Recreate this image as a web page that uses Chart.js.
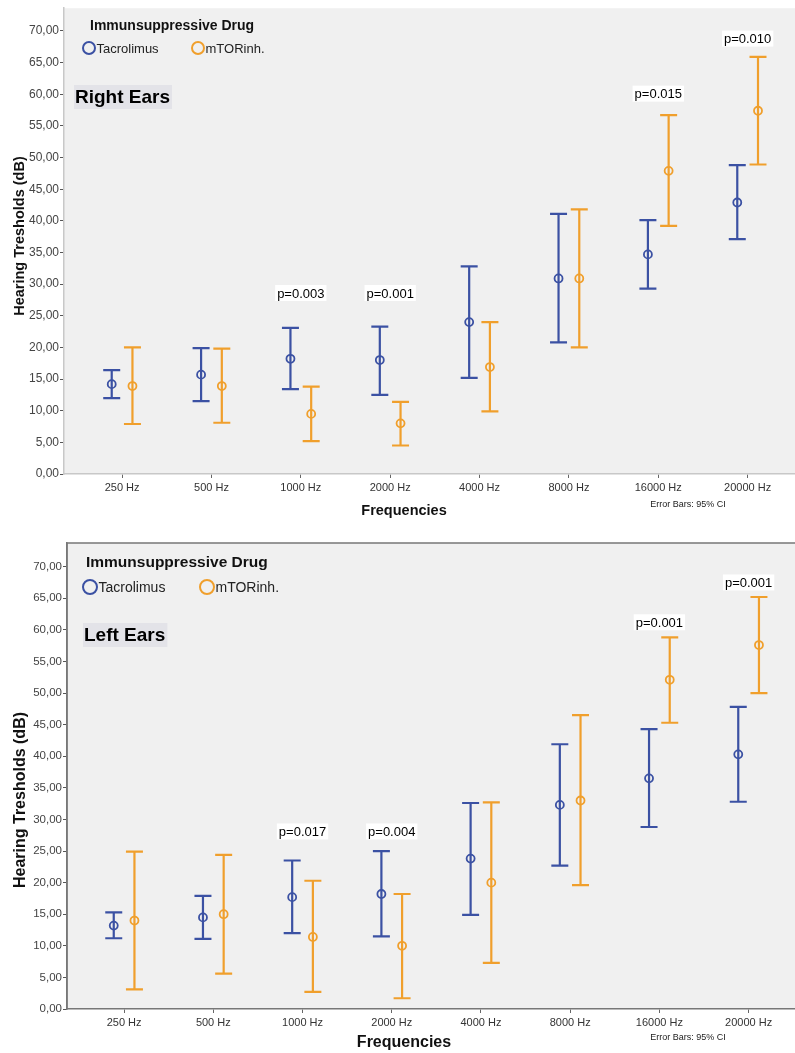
<!DOCTYPE html>
<html>
<head>
<meta charset="utf-8">
<script src="https://cdn.jsdelivr.net/npm/chart.js@4.4.1/dist/chart.umd.min.js"></script>
<style>
    body { margin: 0; background: #fff; }
    .panel { position: absolute; left: 0; }
</style>
</head>
<body>
<div class="panel" style="top:0"><canvas id="rightChart" width="795" height="525"></canvas></div>
<div class="panel" style="top:525px"><canvas id="leftChart" width="795" height="528"></canvas></div>
<script>
// Frequencies on the x axis
const categories = ['250 Hz', '500 Hz', '1000 Hz', '2000 Hz', '4000 Hz', '8000 Hz', '16000 Hz', '20000 Hz'];

// Right ears: means and 95% CI bounds (dB)
const rightTacMean = [14.2, 15.7, 18.2, 18.0, 24.0, 30.9, 34.7, 42.9];
const rightTacLow  = [12.0, 11.5, 13.4, 12.5, 15.2, 20.8, 29.3, 37.1];
const rightTacHigh = [16.4, 19.9, 23.1, 23.3, 32.8, 41.1, 40.1, 48.8];
const rightMtorMean = [13.9, 13.9, 9.5, 8.0, 16.9, 30.9, 47.9, 57.4];
const rightMtorLow  = [7.9, 8.1, 5.2, 4.5, 9.9, 20.0, 39.2, 48.9];
const rightMtorHigh = [20.0, 19.8, 13.8, 11.4, 24.0, 41.8, 56.7, 65.9];
const rightP   = [null, null, 'p=0.003', 'p=0.001', null, null, 'p=0.015', 'p=0.010'];
const rightPAt = [null, null, 28.6, 28.6, null, null, 60.1, 68.8];

// Left ears
const leftTacMean = [13.2, 14.5, 17.7, 18.2, 23.8, 32.3, 36.5, 40.3];
const leftTacLow  = [11.2, 11.1, 12.0, 11.5, 14.9, 22.7, 28.8, 32.8];
const leftTacHigh = [15.3, 17.9, 23.5, 25.0, 32.6, 41.9, 44.3, 47.8];
const leftMtorMean = [14.0, 15.0, 11.4, 10.0, 20.0, 33.0, 52.1, 57.6];
const leftMtorLow  = [3.1, 5.6, 2.7, 1.7, 7.3, 19.6, 45.3, 50.0];
const leftMtorHigh = [24.9, 24.4, 20.3, 18.2, 32.7, 46.5, 58.8, 65.2];
const leftP   = [null, null, 'p=0.017', 'p=0.004', null, null, 'p=0.001', 'p=0.001'];
const leftPAt = [null, null, 28.1, 28.1, null, null, 61.2, 67.5];

const BLUE = '#3b51a3';
const ORANGE = '#f09f2c';
const FONT = "'Liberation Sans', Arial, sans-serif";

/**
 * Draw plot background, borders, error bars
 */
const errorBarPlugin = {
    id: 'errorBars',
    beforeDraw(chart) {
        const a = chart.chartArea;
        const o = chart.options.plugins.errorBars;
        const ctx = chart.ctx;
        ctx.save();
        ctx.fillStyle = '#f0f0f0';
        ctx.fillRect(a.left, a.top, a.right - a.left, a.bottom - a.top);
        if (o.frame) {
            ctx.strokeStyle = o.frame;
            ctx.lineWidth = 1.5;
            ctx.beginPath();
            ctx.moveTo(a.left, a.bottom);
            ctx.lineTo(a.left, a.top);
            ctx.lineTo(a.right, a.top);
            ctx.stroke();
        }
        ctx.restore();
    },
    beforeDatasetsDraw(chart) {
        const ctx = chart.ctx;
        const xs = chart.scales.x, ys = chart.scales.y;
        const cap = 8.5;
        ctx.save();
        ctx.lineWidth = 2.2;
        chart.data.datasets.forEach(ds => {
            ctx.strokeStyle = ds.borderColor;
            ds.data.forEach((pt, i) => {
                const x = xs.getPixelForValue(pt.x);
                const lo = ys.getPixelForValue(ds.low[i]);
                const hi = ys.getPixelForValue(ds.high[i]);
                ctx.beginPath();
                ctx.moveTo(x, lo); ctx.lineTo(x, hi);
                ctx.moveTo(x - cap, lo); ctx.lineTo(x + cap, lo);
                ctx.moveTo(x - cap, hi); ctx.lineTo(x + cap, hi);
                ctx.stroke();
            });
        });
        ctx.restore();
    }
};

/**
 * Legend, panel label, p-values and axis titles
 */
const decorPlugin = {
    id: 'decor',
    afterDraw(chart) {
        const o = chart.options.plugins.decor;
        const ctx = chart.ctx;
        const xs = chart.scales.x, ys = chart.scales.y;
        ctx.save();
        ctx.textBaseline = 'middle';

        // legend
        ctx.fillStyle = '#111';
        ctx.font = 'bold ' + o.legendTitleSize + 'px ' + FONT;
        ctx.textAlign = 'left';
        ctx.fillText('Immunsuppressive Drug', o.legendX, o.legendTitleY);
        chart.data.datasets.forEach((ds, k) => {
            const cx = o.legendItemX[k];
            ctx.strokeStyle = ds.borderColor;
            ctx.lineWidth = 2;
            ctx.beginPath();
            ctx.arc(cx, o.legendItemY, o.legendR, 0, Math.PI * 2);
            ctx.stroke();
            ctx.fillStyle = '#222';
            ctx.font = o.legendSize + 'px ' + FONT;
            ctx.fillText(ds.label, cx + o.legendR + 1.5, o.legendItemY + 1);
        });

        // panel label with shaded box
        ctx.font = 'bold 19px ' + FONT;
        const pw = ctx.measureText(o.panel).width;
        ctx.fillStyle = '#e3e3e8';
        ctx.fillRect(o.panelX - 1, o.panelY - 12, pw + 3, 24);
        ctx.fillStyle = '#000';
        ctx.fillText(o.panel, o.panelX, o.panelY + 1);

        // p-values
        ctx.font = '13px ' + FONT;
        ctx.textAlign = 'center';
        o.pText.forEach((t, i) => {
            if (!t) return;
            const x = xs.getPixelForValue(i);
            const y = ys.getPixelForValue(o.pAt[i]);
            const w = ctx.measureText(t).width;
            ctx.fillStyle = '#fff';
            ctx.fillRect(x - w / 2 - 2, y - 8, w + 4, 16);
            ctx.fillStyle = '#000';
            ctx.fillText(t, x, y + 1);
        });

        // axis titles
        ctx.fillStyle = '#111';
        ctx.font = 'bold ' + o.titleSize + 'px ' + FONT;
        ctx.fillText('Frequencies', 404, o.xTitleY);
        ctx.font = '9px ' + FONT;
        ctx.fillStyle = '#222';
        ctx.fillText('Error Bars: 95% CI', 688, o.noteY);

        ctx.save();
        ctx.translate(o.yTitleX, o.yTitleY);
        ctx.rotate(-Math.PI / 2);
        ctx.font = 'bold ' + o.yTitleSize + 'px ' + FONT;
        ctx.fillStyle = '#111';
        ctx.fillText('Hearing Tresholds (dB)', 0, 0);
        ctx.restore();

        ctx.restore();
    }
};

function points(values, offset) {
    return values.map((v, i) => ({ x: i + offset, y: v }));
}

function makeChart(id, s) {
    const ctx = document.getElementById(id);
    return new Chart(ctx, {
        type: 'scatter',
        data: {
            datasets: [{
                label: 'Tacrolimus',
                data: points(s.tacMean, -0.116),
                low: s.tacLow,
                high: s.tacHigh,
                borderColor: BLUE,
                backgroundColor: 'rgba(0,0,0,0)',
                pointRadius: 4,
                pointBorderWidth: 1.8
            }, {
                label: 'mTORinh.',
                data: points(s.mtorMean, 0.116),
                low: s.mtorLow,
                high: s.mtorHigh,
                borderColor: ORANGE,
                backgroundColor: 'rgba(0,0,0,0)',
                pointRadius: 4,
                pointBorderWidth: 1.8
            }]
        },
        options: {
            responsive: false,
            animation: false,
            layout: { autoPadding: false, padding: { top: s.padTop, left: 0, right: 0, bottom: 0 } },
            plugins: {
                legend: { display: false },
                tooltip: { enabled: false },
                errorBars: { frame: s.frame },
                decor: s.decor
            },
            scales: {
                x: {
                    type: 'linear',
                    min: s.xMin,
                    max: s.xMax,
                    afterFit: sc => { sc.height = s.xHeight; },
                    afterBuildTicks: sc => {
                        sc.ticks = categories.map((c, i) => ({ value: i }));
                    },
                    ticks: {
                        autoSkip: false,
                        maxRotation: 0,
                        padding: 3,
                        color: '#333',
                        font: { family: FONT, size: 11 },
                        callback: v => categories[v]
                    },
                    grid: { drawOnChartArea: false, tickLength: 4, tickColor: '#666' },
                    border: { color: s.axisColor, width: 1.5 }
                },
                y: {
                    min: 0,
                    max: s.yMax,
                    afterFit: sc => { sc.width = s.yWidth; },
                    afterBuildTicks: sc => {
                        sc.ticks = sc.ticks.filter(t => Math.abs(t.value % 5) < 1e-6);
                    },
                    ticks: {
                        stepSize: 5,
                        padding: 1,
                        color: '#444',
                        font: { family: FONT, size: s.yTickSize },
                        callback: v => v.toFixed(2).replace('.', ',')
                    },
                    grid: { drawOnChartArea: false, tickLength: 4, tickColor: '#555' },
                    border: { color: s.axisColor, width: 1.5 }
                }
            }
        },
        plugins: [errorBarPlugin, decorPlugin]
    });
}

makeChart('rightChart', {
    tacMean: rightTacMean, tacLow: rightTacLow, tacHigh: rightTacHigh,
    mtorMean: rightMtorMean, mtorLow: rightMtorLow, mtorHigh: rightMtorHigh,
    padTop: 7, xHeight: 51, yWidth: 64, yMax: 73.6, xMin: -0.65, xMax: 7.53,
    yTickSize: 12, axisColor: '#c8c8c8', frame: null,
    decor: {
        legendTitleSize: 14, legendSize: 13, legendR: 6,
        legendX: 90, legendTitleY: 26, legendItemX: [89, 198], legendItemY: 48,
        panel: 'Right Ears', panelX: 75, panelY: 97,
        pText: rightP, pAt: rightPAt,
        titleSize: 14.5, xTitleY: 511, noteY: 505,
        yTitleX: 20, yTitleY: 236, yTitleSize: 14.5
    }
});

makeChart('leftChart', {
    tacMean: leftTacMean, tacLow: leftTacLow, tacHigh: leftTacHigh,
    mtorMean: leftMtorMean, mtorLow: leftMtorLow, mtorHigh: leftMtorHigh,
    padTop: 18, xHeight: 44, yWidth: 67, yMax: 73.75, xMin: -0.64, xMax: 7.52,
    yTickSize: 11.5, axisColor: '#777', frame: '#777',
    decor: {
        legendTitleSize: 15.5, legendSize: 14, legendR: 7,
        legendX: 86, legendTitleY: 38, legendItemX: [90, 207], legendItemY: 62,
        panel: 'Left Ears', panelX: 84, panelY: 110,
        pText: leftP, pAt: leftPAt,
        titleSize: 16, xTitleY: 518, noteY: 513,
        yTitleX: 21, yTitleY: 275, yTitleSize: 16
    }
});
</script>
</body>
</html>
